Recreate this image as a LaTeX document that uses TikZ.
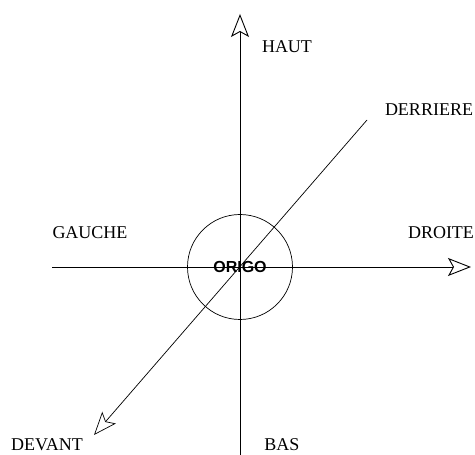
\documentclass[tikz,border=0pt]{standalone}
\usepackage{fontspec}
\setmainfont{Liberation Serif}
\newfontfamily\origofont{Liberation Sans}
\usetikzlibrary{arrows.meta}
\tikzset{
  axe/.style={line width=0.9pt,-{Stealth[open,length=23pt,width=18pt,inset=5pt]}},
  dir/.style={font=\fontsize{18}{21}\selectfont,inner sep=0pt},
}
\begin{document}
\begin{tikzpicture}[x=1pt,y=1pt]
  \useasboundingbox (0,0) rectangle (475,455);
  \coordinate (O) at (240,188);
  \coordinate (bas) at (240,0);
  \coordinate (haut) at (240,441);
  \coordinate (gauche) at (52,188);
  \coordinate (droite) at (471,188);
  \coordinate (derriere) at (367,335);
  \coordinate (devant) at (94,20);
  \node[circle,draw,line width=0.7pt,minimum size=105pt,inner sep=0pt,
        font=\origofont\bfseries\fontsize{16}{19}\selectfont] (origo) at (O) {ORIGO};
  \draw[axe] (bas) -- (haut);
  \draw[axe] (gauche) -- (droite);
  \draw[axe,line width=0.7pt] (derriere) -- (devant);
  \node[dir] (lhaut) at (287,408) {HAUT};
  \node[dir] (lderriere) at (429,345) {DERRIERE};
  \node[dir] (lgauche) at (90,222) {GAUCHE};
  \node[dir] (ldroite) at (441,222) {DROITE};
  \node[dir] (ldevant) at (47,10) {DEVANT};
  \node[dir] (lbas) at (282,10) {BAS};
\end{tikzpicture}
\end{document}
